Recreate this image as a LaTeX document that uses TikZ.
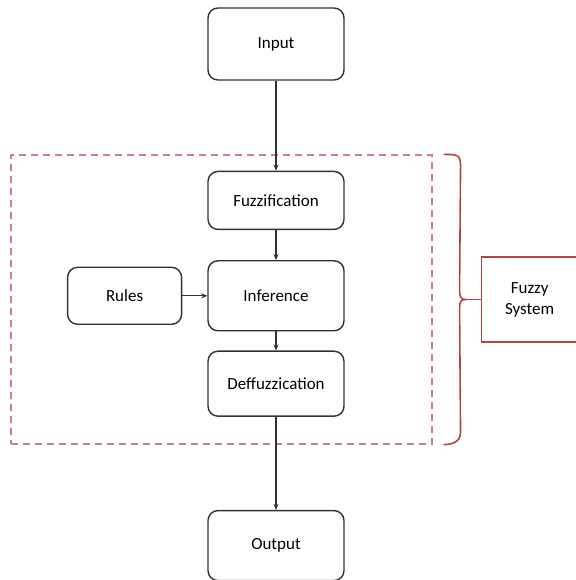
\documentclass[tikz,border=0pt]{standalone}
\usepackage{fontspec}
\setmainfont{Carlito}
\usetikzlibrary{arrows.meta, positioning}
\definecolor{boxgray}{RGB}{50,50,50}
\definecolor{dashred}{RGB}{200,130,130}
\definecolor{bracered}{RGB}{175,70,70}

\begin{document}
\begin{tikzpicture}[
		x=1pt, y=1pt,
		stage/.style={rectangle, rounded corners=10pt, draw=boxgray, line width=1.4pt,
			minimum width=136pt, minimum height=64pt, align=center,
			font=\fontsize{17}{20}\selectfont},
		sysbox/.style={rectangle, draw=bracered, line width=1.2pt,
			minimum width=97pt, minimum height=85pt, align=center,
			font=\fontsize{17}{21}\selectfont},
		arrow/.style={-{Stealth[length=6pt, width=5pt]}, line width=1.2pt, color=boxgray}
		]
		\useasboundingbox (0,0) rectangle (575,580);

		\node[stage, minimum height=72pt] (input) at (276,536) {Input};
		\node[stage, minimum height=58pt, below=90pt of input] (fuzz) {Fuzzi\kern0ptfication};
		\node[stage, minimum height=70pt, below=30pt of fuzz] (infer) {Inference};
		\node[stage, minimum width=114pt, minimum height=57pt, left=25pt of infer] (rules) {Rules};
		\node[stage, minimum height=65pt, below=19pt of infer] (deff) {Deffuzzication};
		\node[stage, minimum height=70pt, below=93pt of deff] (output) {Output};

		% dashed frame round the fuzzy part
		\node[draw=dashred, dash pattern=on 7pt off 5pt, line width=1.1pt,
			minimum width=421pt, minimum height=289pt] (sys) at (221.5,280.5) {};

		% brace
		\coordinate (btop) at ([xshift=11pt]sys.north east);
		\coordinate (tip) at ([xshift=33pt]sys.east);
		\draw[bracered, line width=1.6pt] (btop) .. controls ++(14,0) and ++(0,12) .. ++(17,-12)
			-- ([xshift=-6pt, yshift=8pt]tip) .. controls ++(0,-6) and ++(-4,0) .. (tip)
			.. controls ++(-4,0) and ++(0,6) .. ([xshift=-6pt, yshift=-8pt]tip)
			-- ([xshift=28pt, yshift=12pt]sys.south east) .. controls ++(0,-12) and ++(3,0) .. ([xshift=11pt]sys.south east);
		\node[sysbox, anchor=west] (fuzzy) at ([xshift=15pt]tip) {Fuzzy\\System};
		\draw[bracered, line width=1.4pt] (tip) -- (fuzzy.west);

		\draw[arrow] (input) -- (fuzz);
		\draw[arrow] (fuzz) -- (infer);
		\draw[arrow] (rules) -- (infer);
		\draw[arrow] (infer) -- (deff);
		\draw[arrow] (deff) -- (output);
\end{tikzpicture}
\end{document}
